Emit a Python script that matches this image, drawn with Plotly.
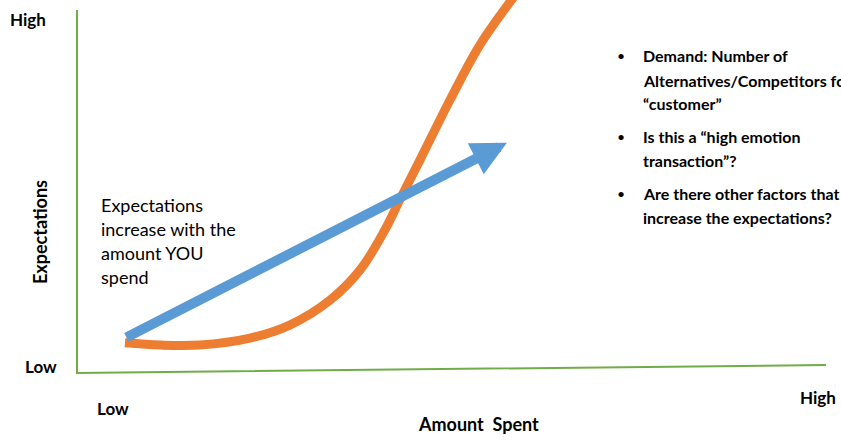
import plotly.graph_objects as go

# Conceptual data space: Amount spent 0..100 (Low..High), Expectations 0..100 (Low..High)
curve_x = [6.4, 11.1, 16.4, 23.1, 28.4, 33.8, 37.8, 41.1, 43.1, 45.8, 49.8, 53.8, 58.5]
curve_y = [8.3, 7.7, 7.7, 9.6, 13.2, 20.1, 28.4, 39.4, 47.7, 58.7, 75.2, 90.4, 104.1]

arrow_start = [6.4, 9.6]
arrow_end = [57.4, 63.4]

axis_x = [0, 0, 100]
axis_y = [100, 0, 2.2]

body_lines = ["Expectations", "increase with the", "amount YOU", "spend"]
bullet_lines = [
    ["Demand: Number of", "Alternatives/Competitors for this", "\u201ccustomer\u201d"],
    ["Is this a \u201chigh emotion", "transaction\u201d?"],
    ["Are there other factors that", "increase the expectations?"],
]

W, H = 841, 440
FONT = "Lato"
GREEN = "#70AD47"
ORANGE = "#ED7D31"
BLUE = "#5B9BD5"

fig = go.Figure()

# axes lines (green)
fig.add_trace(go.Scatter(x=axis_x, y=axis_y, mode="lines",
                         line=dict(color=GREEN, width=2), hoverinfo="skip", showlegend=False))

# orange curve
fig.add_trace(go.Scatter(x=curve_x, y=curve_y, mode="lines",
                         line=dict(color=ORANGE, width=9, shape="spline", smoothing=1.0),
                         hoverinfo="skip", showlegend=False))

annotations = []
# blue arrow
annotations.append(dict(x=arrow_end[0], y=arrow_end[1], ax=arrow_start[0], ay=arrow_start[1],
                        xref="x", yref="y", axref="x", ayref="y", text="", showarrow=True,
                        arrowhead=2, arrowwidth=10, arrowsize=0.7, arrowcolor=BLUE, standoff=0))

def px(xp, yp):
    return xp / W, 1 - yp / H

def label(text, xp, yp, size, bold=False, xanchor="left", angle=0):
    x, y = px(xp, yp)
    t = f"<b>{text}</b>" if bold else text
    annotations.append(dict(x=x, y=y, xref="paper", yref="paper", text=t, showarrow=False,
                            xanchor=xanchor, yanchor="middle", textangle=angle,
                            font=dict(family=FONT, size=size, color="#000")))

label("High", 8, 20, 17, bold=True)
label("Low", 23, 366, 17, bold=True)
label("Expectations", 40, 232, 18, bold=True, xanchor="center", angle=-90)
label("Low", 95, 408, 17, bold=True)
label("High", 798, 397, 17, bold=True)
label("Amount\u00a0 Spent", 478, 424, 18, bold=True, xanchor="center")

for i, line in enumerate(body_lines):
    label(line, 99, 205 + 24 * i, 18)

bullet_y = [[56, 80, 104], [136, 160], [193, 217]]
for lines, ys in zip(bullet_lines, bullet_y):
    label("\u2022", 615, ys[0], 14)
    for line, yy in zip(lines, ys):
        label(line, 641, yy, 16, bold=True)

fig.update_layout(
    width=W, height=H,
    margin=dict(l=0, r=0, t=0, b=0),
    paper_bgcolor="white", plot_bgcolor="white",
    xaxis=dict(range=[-10.28, 102.0], visible=False, fixedrange=True),
    yaxis=dict(range=[-18.46, 102.75], visible=False, fixedrange=True),
    annotations=annotations,
    showlegend=False,
)

fig.write_html("out.html")
